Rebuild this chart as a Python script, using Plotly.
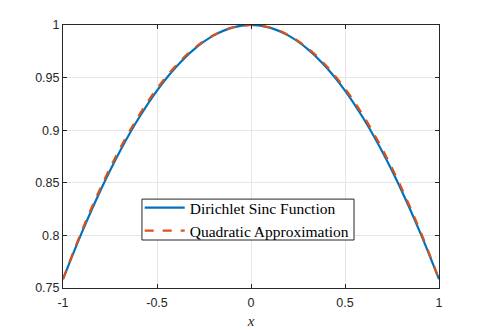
import plotly.graph_objects as go

# Valores
x_vals = [-1.0, -0.9, -0.8, -0.7, -0.6, -0.5, -0.4, -0.3, -0.2, -0.1, 0.0,
          0.1, 0.2, 0.3, 0.4, 0.5, 0.6, 0.7, 0.8, 0.9, 1.0]
sinc_vals = [0.7584, 0.8027, 0.8430, 0.8790, 0.9106, 0.9377, 0.9599, 0.9774, 0.9899, 0.9975, 1.0,
             0.9975, 0.9899, 0.9774, 0.9599, 0.9377, 0.9106, 0.8790, 0.8430, 0.8027, 0.7584]
quad_vals = [0.7584, 0.8043, 0.8454, 0.8816, 0.9130, 0.9396, 0.9613, 0.9783, 0.9903, 0.9976, 1.0,
             0.9976, 0.9903, 0.9783, 0.9613, 0.9396, 0.9130, 0.8816, 0.8454, 0.8043, 0.7584]

x_ticks = [-1, -0.5, 0, 0.5, 1]
x_labels = ['-1', '-0.5', '0', '0.5', '1']
y_ticks = [0.75, 0.8, 0.85, 0.9, 0.95, 1]
y_labels = ['0.75', '0.8', '0.85', '0.9', '0.95', '1']

COLORS = {
    'sinc': '#0072BD',
    'quad': '#D95319',
    'axis': '#262626',
    'grid': '#e6e6e6',
}

fig = go.Figure()
fig.add_trace(go.Scatter(
    x=x_vals, y=sinc_vals, mode='lines', name='Dirichlet Sinc Function',
    line=dict(color=COLORS['sinc'], width=2.2, shape='spline')
))
fig.add_trace(go.Scatter(
    x=x_vals, y=quad_vals, mode='lines', name='Quadratic Approximation',
    line=dict(color=COLORS['quad'], width=2.2, dash='dash', shape='spline')
))

axis_style = dict(
    showline=True, linecolor=COLORS['axis'], linewidth=1, mirror='ticks',
    ticks='inside', ticklen=4, tickcolor=COLORS['axis'],
    showgrid=True, gridcolor=COLORS['grid'], zeroline=False, automargin=False,
    tickfont=dict(family='Liberation Sans, Arial', size=12.5, color=COLORS['axis']),
)

# caja de la leyenda (mas ajustada que la de plotly)
fig.add_shape(type='rect', xref='paper', yref='paper',
              x0=0.210, x1=0.774, y0=0.1825, y1=0.338,
              fillcolor='white', line=dict(color=COLORS['axis'], width=1), layer='above')

# la pagina tiene un margen de 8px en el body, se compensa aqui
fig.update_layout(
    width=477, height=322,
    margin=dict(l=55, r=46, t=17, b=42),
    paper_bgcolor='white', plot_bgcolor='white',
    xaxis=dict(range=[-1, 1], tickvals=x_ticks, ticktext=x_labels, ticklabelstandoff=3,
               title=dict(text='<i>x</i>', standoff=6,
                          font=dict(family='Liberation Serif, Times New Roman', size=15, color=COLORS['axis'])),
               **axis_style),
    yaxis=dict(range=[0.75, 1], tickvals=y_ticks, ticktext=y_labels, **axis_style),
    legend=dict(
        x=0.204, y=0.2605, xanchor='left', yanchor='middle',
        bgcolor='rgba(0,0,0,0)', borderwidth=0,
        font=dict(family='Liberation Serif, Times New Roman', size=15.5, color='black'),
        tracegroupgap=0, itemwidth=40,
    ),
    showlegend=True,
)

fig.write_html("out.html")
